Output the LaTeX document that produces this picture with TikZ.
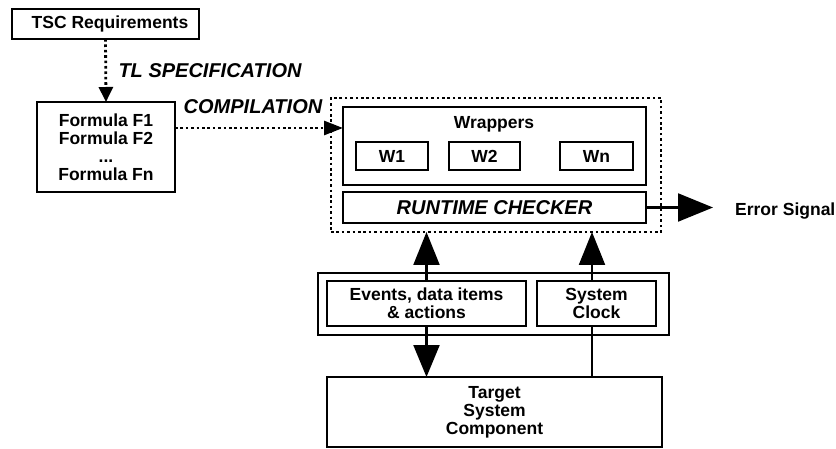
\documentclass[tikz,border=0pt]{standalone}
\usepackage{fontspec}
\setmainfont{Liberation Sans}
\usetikzlibrary{arrows.meta,calc}
\begin{document}
\begin{tikzpicture}[x=1pt,y=-1pt,
  box/.style={draw, line width=2.5pt, inner sep=0pt, outer sep=0pt, anchor=north west, align=center,
    font=\bfseries\fontsize{17.5}{18}\selectfont},
  dotbox/.style={draw, line width=2.8pt, dash pattern=on 2.6pt off 2.8pt, inner sep=0pt, outer sep=0pt, anchor=north west},
  txt/.style={font=\bfseries\fontsize{17.5}{18}\selectfont, align=center, inner sep=0pt},
  lab/.style={font=\bfseries\itshape\fontsize{20}{22}\selectfont, inner sep=0pt},
  dotline/.style={line width=2.8pt, dash pattern=on 2.6pt off 2.8pt},
  conn/.style={line width=2.2pt}
]
\useasboundingbox (0,0) rectangle (836,449);
% top part
\node[box, minimum width=187pt, minimum height=30pt] (tsc) at (12,9) {\hspace*{9pt}TSC Requirements};
\node[box, minimum width=138pt, minimum height=90pt] (formula) at (37,102) {Formula F1\\Formula F2\\...\\Formula Fn};
\node[lab] (tlspec) at (210,71) {TL SPECIFICATION};
\node[lab] (compil) at (253,107) {COMPILATION};
% checker block
\node[dotbox, minimum width=330pt, minimum height=134pt] (outer) at (331,98) {};
\node[box, minimum width=303pt, minimum height=78pt] (wrappers) at (343,107) {};
\node[txt] (wraplabel) at (494,124) {Wrappers};
\node[box, minimum width=72pt, minimum height=28pt] (w1) at (356,142) {W1};
\node[box, minimum width=71pt, minimum height=28pt] (w2) at (449,142) {W2};
\node[box, minimum width=73pt, minimum height=28pt] (wn) at (560,142) {Wn};
\node[box, minimum width=303pt, minimum height=31pt, font=\bfseries\itshape\fontsize{20}{22}\selectfont] (runtime) at (343,192) {RUNTIME CHECKER};
\node[txt, anchor=west] (err) at (735,211) {Error Signal};
% interface block
\node[box, minimum width=351pt, minimum height=62pt] (iface) at (318,273) {};
\node[box, minimum width=199pt, minimum height=45pt] (events) at (327,281) {Events, data items\\\& actions};
\node[box, minimum width=119pt, minimum height=45pt] (clock) at (537,281) {System\\Clock};
\node[box, minimum width=335pt, minimum height=70pt] (target) at (327,377) {Target\\System\\Component};
% connectors
\draw[dotline, -{Triangle[length=15pt,width=14pt]}] (tsc.south) -- (formula.north);
\coordinate (cy) at (0,128);
\draw[dotline, -{Triangle[length=19pt,width=14pt]}] (formula.east |- cy) -- (wrappers.west |- cy);
\coordinate (errtip) at (713,209);
\draw[conn, -{Triangle[length=35pt,width=28pt]}] (runtime.east) -- (errtip |- runtime.east);
\draw[conn, -{Triangle[length=33pt,width=26pt]}] (events.north) -- (events.north |- outer.south);
\draw[conn, -{Triangle[length=32pt,width=26pt]}] (events.south) -- (events.south |- target.north);
\coordinate (cx) at (592,0);
\draw[conn, -{Triangle[length=33pt,width=26pt]}] (clock.north -| cx) -- (outer.south -| cx);
\draw[conn] (clock.south -| cx) -- (target.north -| cx);
\end{tikzpicture}
\end{document}
